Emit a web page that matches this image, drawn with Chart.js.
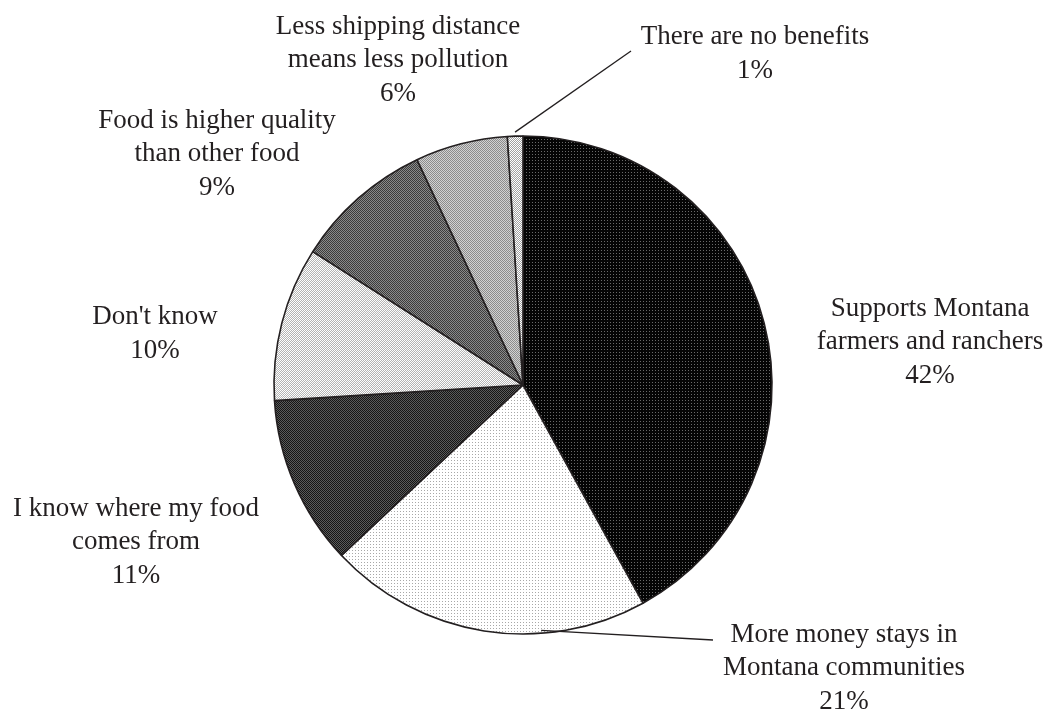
<!DOCTYPE html>
<html>
<head>
<meta charset="utf-8">
<style>
  html, body { margin: 0; padding: 0; background: #fff; }
  #wrap { width: 1049px; height: 711px; }
</style>
<script src="https://cdn.jsdelivr.net/npm/chart.js@4"></script>
</head>
<body>
<div id="wrap"><canvas id="chart"></canvas></div>
<script>
// survey answers, clockwise from 12 o'clock
const categories = [
  ['Supports Montana', 'farmers and ranchers'],
  ['More money stays in', 'Montana communities'],
  ['I know where my food', 'comes from'],
  ["Don't know"],
  ['Food is higher quality', 'than other food'],
  ['Less shipping distance', 'means less pollution'],
  ['There are no benefits']
];
const shares = [42, 21, 11, 10, 9, 6, 1];

// small pixel tiles, like the old print fills
function tile(size, base, dots) {
  const c = document.createElement('canvas');
  c.width = size; c.height = size;
  const g = c.getContext('2d');
  g.fillStyle = base;
  g.fillRect(0, 0, size, size);
  dots.forEach(([x, y, col]) => { g.fillStyle = col; g.fillRect(x, y, 1, 1); });
  return g.createPattern(c, 'repeat');
}
const checker = (a, b) => tile(2, a, [[1, 0, b], [0, 1, b]]);

const fills = [
  tile(3, '#050505', [[1, 1, '#6a6a6a']]),
  tile(3, '#ffffff', [[1, 1, '#a8a8a8']]),
  checker('#151515', '#5a5a5a'),
  checker('#ffffff', '#b4b4b4'),
  checker('#3c3c3c', '#8a8a8a'),
  checker('#8c8c8c', '#d2d2d2'),
  checker('#ffffff', '#a0a0a0')
];

// label block centres, offset from the pie centre (px)
const labelOffsets = [
  [407, -43], [321, 283], [-387, 157], [-368, -51], [-306, -231], [-125, -325], [232, -331]
];
// leaders: slice index, where on the slice (0..1), radial push, end offset from label centre
const leaders = [
  { index: 6, at: 0.5, push: 4, end: [-124, -3] },
  { index: 1, at: 0.325, push: -3, end: [-131, -28] }
];

const LINE = 33.5;
const FONT = '27px "Liberation Serif", "Times New Roman", serif';
const INK = '#231f20';

const outsideLabels = {
  id: 'outsideLabels',
  afterDatasetsDraw(chart) {
    const ctx = chart.ctx;
    const arcs = chart.getDatasetMeta(0).data;
    const cx = arcs[0].x, cy = arcs[0].y, r = arcs[0].outerRadius;
    ctx.save();

    ctx.strokeStyle = INK;
    ctx.lineWidth = 1.3;
    leaders.forEach(l => {
      const a = arcs[l.index];
      const ang = a.startAngle + (a.endAngle - a.startAngle) * l.at;
      const rr = r + l.push;
      const [ox, oy] = labelOffsets[l.index];
      ctx.beginPath();
      ctx.moveTo(cx + rr * Math.cos(ang), cy + rr * Math.sin(ang));
      ctx.lineTo(cx + ox + l.end[0], cy + oy + l.end[1]);
      ctx.stroke();
    });

    ctx.fillStyle = INK;
    ctx.font = FONT;
    ctx.textAlign = 'center';
    ctx.textBaseline = 'middle';
    categories.forEach((lines, i) => {
      const all = lines.concat([shares[i] + '%']);
      const [ox, oy] = labelOffsets[i];
      const top = cy + oy - (all.length - 1) * LINE / 2;
      all.forEach((t, k) => ctx.fillText(t, cx + ox, top + k * LINE));
    });
    ctx.restore();
  }
};

new Chart(document.getElementById('chart'), {
  type: 'pie',
  data: {
    labels: categories.map(c => c.join(' ')),
    datasets: [{
      data: shares,
      backgroundColor: fills,
      borderColor: INK,
      borderWidth: 1.6,
      radius: 249
    }]
  },
  options: {
    responsive: true,
    maintainAspectRatio: false,
    animation: false,
    layout: { padding: { top: 59, right: 3, bottom: 0, left: 0 } },
    plugins: {
      legend: { display: false },
      tooltip: { enabled: false }
    }
  },
  plugins: [outsideLabels]
});
</script>
</body>
</html>
